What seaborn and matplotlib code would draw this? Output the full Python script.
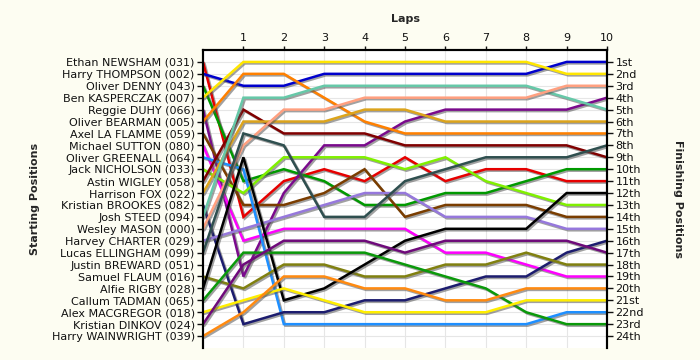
import pandas as pd
import matplotlib
matplotlib.use("Agg")
import matplotlib.pyplot as plt
import matplotlib.patheffects as pe
import seaborn as sns

# Starting grid (top to bottom)
drivers = [
    "Ethan NEWSHAM (031)", "Harry THOMPSON (002)", "Oliver DENNY (043)",
    "Ben KASPERCZAK (007)", "Reggie DUHY (066)", "Oliver BEARMAN (005)",
    "Axel LA FLAMME (059)", "Michael SUTTON (080)", "Oliver GREENALL (064)",
    "Jack NICHOLSON (033)", "Astin WIGLEY (058)", "Harrison FOX (022)",
    "Kristian BROOKES (082)", "Josh STEED (094)", "Wesley MASON (000)",
    "Harvey CHARTER (029)", "Lucas ELLINGHAM (099)", "Justin BREWARD (051)",
    "Samuel FLAUM (016)", "Alfie RIGBY (028)", "Callum TADMAN (065)",
    "Alex MACGREGOR (018)", "Kristian DINKOV (024)", "Harry WAINWRIGHT (039)",
]

colors = [
    "#e60000", "#0000cc", "#009900", "#ffe600", "#7a0a8c", "#ff8000",
    "#7a3d00", "#ff00ff", "#1e8fff", "#80f000", "#800000", "#dca41c",
    "#1c1c6e", "#66c8a8", "#ffa080", "#9678dc", "#2f4f4f", "#888888",
    "#808010", "#000000", "#0a990a", "#ffee00", "#6e0a7a", "#ff8a10",
]

laps = list(range(11))

# position at laps 0..10 for each starter (None = no laps recorded)
positions = [
    [1, 14, 11, 10, 11, 9, 11, 10, 10, 11, 11],
    [2, 3, 3, 2, 2, 2, 2, 2, 2, 1, 1],
    [3, 11, 10, 11, 13, 13, 12, 12, 11, 10, 10],
    [4, 1, 1, 1, 1, 1, 1, 1, 1, 2, 2],
    [5, 19, 12, 8, 8, 6, 5, 5, 5, 5, 4],
    [6, 2, 2, 4, 6, 7, 7, 7, 7, 7, 7],
    [7, 13, 13, 12, 10, 14, 13, 13, 13, 14, 14],
    [8, 16, 15, 15, 15, 15, 17, 17, 18, 19, 19],
    [9, 10, 23, 23, 23, 23, 23, 23, 23, 22, 22],
    [10, 12, 9, 9, 9, 10, 9, 11, 12, 13, 13],
    [11, 5, 7, 7, 7, 8, 8, 8, 8, 8, 9],
    [12, 6, 6, 6, 5, 5, 6, 6, 6, 6, 6],
    [13, 23, 22, 22, 21, 21, 20, 19, 19, 17, 16],
    [14, 4, 4, 3, 3, 3, 3, 3, 3, 4, 5],
    [15, 8, 5, 5, 4, 4, 4, 4, 4, 3, 3],
    [16, 15, 14, 13, 12, 12, 14, 14, 14, 15, 15],
    [17, 7, 8, 14, 14, 11, 10, 9, 9, 9, 8],
    None,
    [19, 20, 18, 18, 19, 19, 18, 18, 17, 18, 18],
    [20, 9, 21, 20, 18, 16, 15, 15, 15, 12, 12],
    [21, 17, 17, 17, 17, 18, 19, 20, 22, 23, 23],
    [22, 21, 20, 21, 22, 22, 22, 22, 21, 21, 21],
    [23, 18, 16, 16, 16, 17, 16, 16, 16, 16, 17],
    [24, 22, 19, 19, 20, 20, 21, 21, 20, 20, 20],
]

finish_labels = [
    "1st", "2nd", "3rd", "4th", "5th", "6th", "7th", "8th", "9th", "10th",
    "11th", "12th", "13th", "14th", "15th", "16th", "17th", "18th", "19th",
    "20th", "21st", "22nd", "23rd", "24th",
]

rows = []
for name, pos in zip(drivers, positions):
    if pos is None:
        continue
    for lap, p in zip(laps, pos):
        rows.append({"driver": name, "lap": lap, "pos": p})
df = pd.DataFrame(rows)
palette = dict(zip(drivers, colors))

sns.set_style("white")
plt.rcParams["font.family"] = ["DejaVu Sans"]
bg = "#fdfdf2"

fig = plt.figure(figsize=(7, 3.6), dpi=100, facecolor=bg)
ax = fig.add_axes([203 / 700, 12 / 360, 404 / 700, 298 / 360])
ax.set_facecolor("white")

sns.lineplot(data=df, x="lap", y="pos", hue="driver", palette=palette,
             estimator=None, sort=False, legend=False, linewidth=1.8, ax=ax)

for line in ax.lines:
    line.set_path_effects([
        pe.SimpleLineShadow(offset=(1.1, -1.1), shadow_color="#555555", alpha=0.55),
        pe.Normal(),
    ])
    line.set_solid_joinstyle("miter")

ax.set_xlim(0, 10)
ax.set_ylim(25, 0)

# top lap axis
ax.xaxis.tick_top()
ax.xaxis.set_label_position("top")
ax.set_xticks(range(1, 11))
ax.set_xticklabels([str(i) for i in range(1, 11)])
ax.set_xlabel("Laps", fontsize=8, fontweight="bold", labelpad=8)

# starting grid on the left
ax.set_yticks(range(1, 25))
ax.set_yticklabels(drivers)
ax.set_ylabel("Starting Positions", fontsize=8, fontweight="bold", labelpad=8)

ax.tick_params(axis="both", labelsize=8, colors="#111111", length=4, width=1,
               direction="out", pad=2)
ax.tick_params(axis="x", length=3)

ax.grid(True, color="#e6e6e6", linewidth=0.8)
ax.set_axisbelow(True)

# finishing positions on the right
ax2 = ax.twinx()
ax2.set_ylim(25, 0)
ax2.set_yticks(range(1, 25))
ax2.set_yticklabels(finish_labels)
ax2.tick_params(axis="y", labelsize=8, colors="#111111", length=4, width=1, pad=2)
ax2.set_ylabel("Finishing Positions", fontsize=8, fontweight="bold",
               rotation=270, labelpad=28)

for a in (ax, ax2):
    a.spines["bottom"].set_visible(False)
    for s in ("top", "left", "right"):
        a.spines[s].set_color("black")
        a.spines[s].set_linewidth(1.5)

fig.savefig("out.png", dpi=100, facecolor=bg)
